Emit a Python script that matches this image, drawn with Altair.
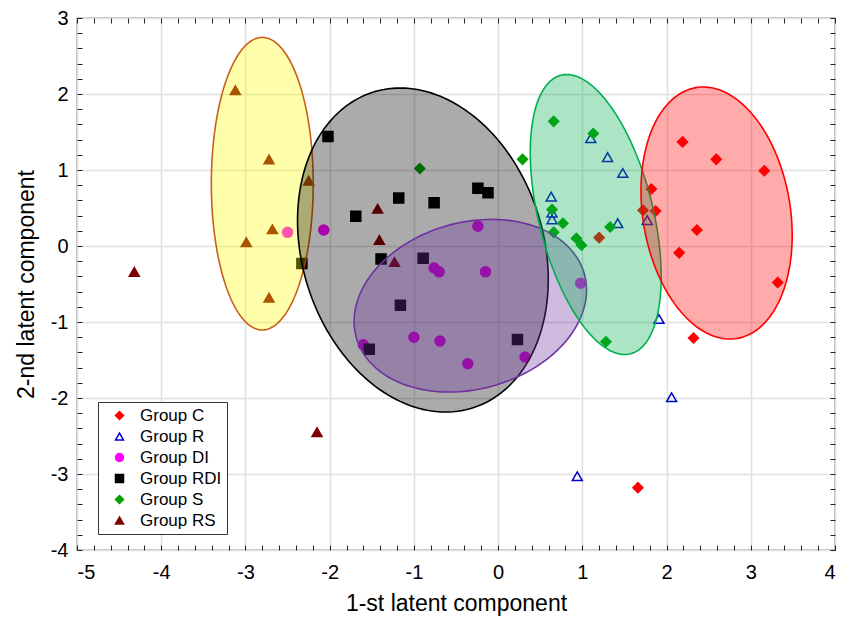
import altair as alt
import numpy as np
import pandas as pd

groups = ["Group C", "Group R", "Group DI", "Group RDI", "Group S", "Group RS"]

c_x = [2.19, 2.59, 3.16, 1.82, 1.72, 1.87, 2.36, 2.15, 3.32, 2.32, 1.66, 1.20]
c_y = [1.37, 1.14, 0.99, 0.75, 0.47, 0.46, 0.21, -0.09, -0.48, -1.21, -3.18, 0.11]

r_x = [1.10, 1.30, 1.48, 0.63, 0.64, 0.64, 1.42, 1.77, 1.91, 2.06, 0.94]
r_y = [1.42, 1.17, 0.96, 0.65, 0.44, 0.35, 0.30, 0.34, -0.96, -1.99, -3.03]

di_x = [-2.50, -2.07, -0.24, -0.76, -0.70, -0.15, 0.98, -1.00, -0.69, -1.60, -0.36, 0.32]
di_y = [0.18, 0.21, 0.26, -0.29, -0.34, -0.34, -0.49, -1.20, -1.25, -1.30, -1.55, -1.46]

rdi_x = [-2.02, -1.18, -1.69, -0.76, -0.24, -0.12, -1.39, -0.89, -2.33, -1.16, -1.53, 0.23]
rdi_y = [1.44, 0.63, 0.39, 0.57, 0.76, 0.70, -0.17, -0.16, -0.23, -0.78, -1.36, -1.23]

s_x = [-0.93, 0.29, 0.66, 1.13, 0.64, 0.77, 0.66, 0.93, 0.99, 1.33, 1.28]
s_y = [1.02, 1.14, 1.64, 1.48, 0.48, 0.30, 0.18, 0.10, 0.01, 0.25, -1.26]

rs_x = [-3.12, -2.72, -2.25, -2.99, -2.68, -2.72, -1.43, -1.41, -1.23, -4.32, -2.15]
rs_y = [2.05, 1.14, 0.86, 0.05, 0.22, -0.68, 0.49, 0.08, -0.21, -0.34, -2.45]

# confidence ellipses: centre and covariance (data units)
ell_names = ["RS", "RDI", "DI", "S", "C"]
ell_cx = [-2.80, -0.893, -0.330, 1.159, 2.594]
ell_cy = [0.82, -0.053, -0.786, 0.414, 0.434]
ell_sxx = [0.366, 2.216, 1.904, 0.604, 0.806]
ell_sxy = [0.0, -0.574, 0.285, -0.634, -0.263]
ell_syy = [3.706, 4.544, 1.290, 3.393, 2.749]
ell_fill = ["#ffff00", "#000000", "#7030a0", "#00b050", "#ff0000"]
ell_stroke = ["#c8601a", "#000000", "#7030a0", "#00b050", "#ff0000"]

x_ticks = [-5, -4, -3, -2, -1, 0, 1, 2, 3, 4]
y_ticks = [-4, -3, -2, -1, 0, 1, 2, 3]

fill_range = ["#ff0000", "transparent", "#ff00ff", "#000000", "#00a000", "#800000"]
stroke_range = ["#ff0000", "#0000cc", "#ff00ff", "#000000", "#00a000", "#800000"]
shape_range = ["diamond", "triangle-up", "circle", "square", "diamond", "triangle-up"]

W, H = 758, 532

rows = []
for g, xs, ys in zip(groups, [c_x, r_x, di_x, rdi_x, s_x, rs_x], [c_y, r_y, di_y, rdi_y, s_y, rs_y]):
    for a, b in zip(xs, ys):
        rows.append({"group": g, "x": a, "y": b})
pts = pd.DataFrame(rows)

minor_x = [round(-5 + 0.2 * i, 2) for i in range(46)]
minor_y = [round(-4 + 0.2 * i, 2) for i in range(36)]

xs_scale = alt.Scale(domain=[-5, 4], nice=False, zero=False)
ys_scale = alt.Scale(domain=[-4, 3], nice=False, zero=False)

leg = alt.Legend(orient="none", legendX=21, legendY=384, title=None,
                 fillColor="white", strokeColor="#333333", padding=5,
                 labelFontSize=17, labelFont="Liberation Sans", symbolSize=64,
                 symbolStrokeWidth=1.5, rowPadding=3, symbolOffset=8,
                 labelOffset=12, cornerRadius=0)

points = alt.Chart(pts).mark_point(filled=True, size=100, strokeWidth=1.5, opacity=1).encode(
    x=alt.X("x:Q", scale=xs_scale,
            axis=alt.Axis(values=x_ticks, grid=True, gridColor="#e0e0e0", gridWidth=1.5,
                          ticks=False, domain=False, labelFontSize=20, labelPadding=12,
                          labelExpr="datum.value + ''",
                          title="1-st latent component", titleFontSize=23,
                          titleFontWeight="normal", titlePadding=10, labelColor="black",
                          titleColor="black")),
    y=alt.Y("y:Q", scale=ys_scale,
            axis=alt.Axis(values=y_ticks, grid=True, gridColor="#e0e0e0", gridWidth=1.5,
                          ticks=False, domain=False, labelFontSize=20, labelPadding=9,
                          labelExpr="datum.value + ''",
                          title="2-nd latent component", titleFontSize=23,
                          titleFontWeight="normal", titlePadding=12, labelColor="black",
                          titleColor="black")),
    fill=alt.Fill("group:N", scale=alt.Scale(domain=groups, range=fill_range), legend=leg),
    stroke=alt.Stroke("group:N", scale=alt.Scale(domain=groups, range=stroke_range), legend=leg),
    shape=alt.Shape("group:N", scale=alt.Scale(domain=groups, range=shape_range), legend=leg),
)

t = np.linspace(0, 2 * np.pi, 181)
ell_layers = []
for i in range(len(ell_names)):
    M = np.array([[ell_sxx[i], ell_sxy[i]], [ell_sxy[i], ell_syy[i]]])
    L = np.linalg.cholesky(M)
    P = L @ np.vstack([np.cos(t), np.sin(t)])
    df = pd.DataFrame({"x": ell_cx[i] + P[0], "y": ell_cy[i] + P[1], "i": np.arange(len(t))})
    layer = alt.Chart(df).mark_line(fill=ell_fill[i], fillOpacity=0.33, stroke=ell_stroke[i],
                                    strokeWidth=1.6).encode(
        x=alt.X("x:Q", scale=xs_scale, axis=None),
        y=alt.Y("y:Q", scale=ys_scale, axis=None),
        order=alt.Order("i:Q"),
    )
    ell_layers.append(layer)

def tick_axis(vals, orient, offset):
    return alt.Axis(values=vals, orient=orient, offset=offset, labels=False, grid=False,
                    domain=False, ticks=True, tickSize=5, tickColor="#222222", tickWidth=1,
                    title=None, zindex=1)

ticks_a = alt.Chart(pts).mark_point(opacity=0).encode(
    x=alt.X("x:Q", scale=xs_scale, axis=tick_axis(minor_x, "top", -H)),
    y=alt.Y("y:Q", scale=ys_scale, axis=tick_axis(minor_y, "right", -W)),
)
ticks_b = alt.Chart(pts).mark_point(opacity=0).encode(
    x=alt.X("x:Q", scale=xs_scale, axis=tick_axis(minor_x, "bottom", -H)),
    y=alt.Y("y:Q", scale=ys_scale, axis=tick_axis(minor_y, "left", -W)),
)

chart = alt.layer(points, *ell_layers, ticks_a, ticks_b).resolve_axis(
    x="independent", y="independent"
).properties(
    width=W, height=H,
    autosize=alt.AutoSizeParams(type="none"),
    padding={"left": 69, "top": 10, "right": 9, "bottom": 68},
).configure(font="Liberation Sans").configure_view(stroke="#111111", strokeWidth=1.2)

chart.save("out.html", embed_options={"renderer": "svg", "actions": False})
